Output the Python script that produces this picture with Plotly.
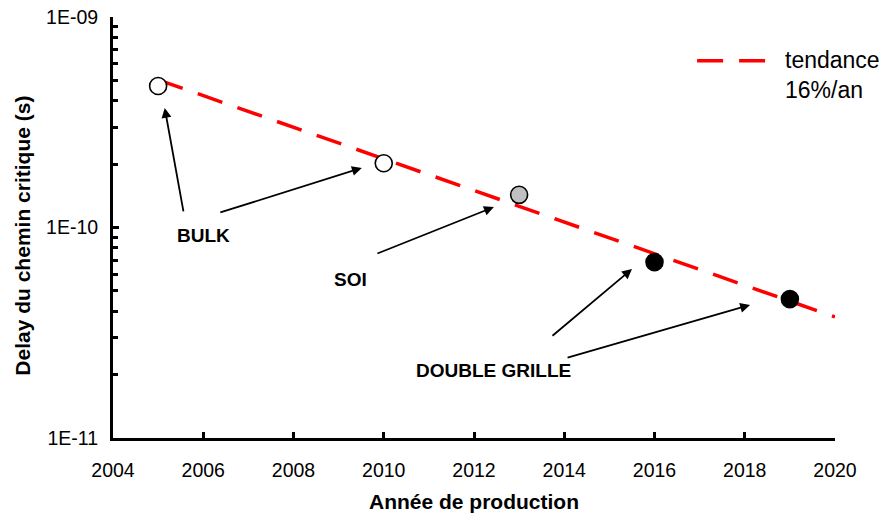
import plotly.graph_objects as go

# Critical-path delay by production year (seconds)
years = [2005, 2010, 2013, 2016, 2019]
delays = [4.70e-10, 2.02e-10, 1.43e-10, 6.85e-11, 4.57e-11]
techs = ["BULK", "BULK", "SOI", "DOUBLE GRILLE", "DOUBLE GRILLE"]
tech_fill = {"BULK": "white", "SOI": "#C0C0C0", "DOUBLE GRILLE": "black"}

# Trend line end points (-16 % per year)
trend_years = [2005, 2020]
trend_delays = [5.03e-10, 3.76e-11]

y_tick_vals = [1e-11, 1e-10, 1e-09]
y_tick_text = ["1E-11", "1E-10", "1E-09"]
y_minor_vals = [k * 10.0 ** e for e in (-11, -10) for k in range(2, 10)]
x_tick_vals = [2004, 2006, 2008, 2010, 2012, 2014, 2016, 2018, 2020]

FONT = "Arial, 'Liberation Sans', sans-serif"
RED = "#FF0000"
DASH = "26px,16px"

fig = go.Figure()

fig.add_trace(go.Scatter(
    x=trend_years, y=trend_delays, mode="lines",
    name="tendance 16%/an",
    line=dict(color=RED, width=3.5, dash=DASH),
    showlegend=False, hoverinfo="skip",
))

fig.add_trace(go.Scatter(
    x=years, y=delays, mode="markers",
    marker=dict(size=17, color=[tech_fill[t] for t in techs],
                line=dict(color="black", width=1.6)),
    text=techs, showlegend=False,
))

# Arrows from the technology labels to the points (tip in data units, tail offset in px)
arrows = [
    (2005.146, -9.432, 19, 105),
    (2009.514, -9.717, -143, 45),
    (2012.441, -9.903, -118, 47),
    (2015.501, -10.197, -81, 68),
    (2018.118, -10.368, -184, 53),
]
for x, ly, ax, ay in arrows:
    fig.add_annotation(
        x=x, y=ly, xref="x", yref="y", ax=ax, ay=ay,
        text="", showarrow=True, arrowhead=2, arrowsize=1.1,
        arrowwidth=1.8, arrowcolor="black", standoff=0, startstandoff=0,
    )

labels = [
    ("BULK", 2006.01, -10.036),
    ("SOI", 2009.26, -10.245),
    ("DOUBLE GRILLE", 2012.44, -10.679),
]
for txt, x, ly in labels:
    fig.add_annotation(
        x=x, y=ly, xref="x", yref="y", text="<b>%s</b>" % txt,
        showarrow=False, xanchor="center", yanchor="middle",
        font=dict(family=FONT, size=19, color="black"),
    )

# Hand-drawn legend for the trend line
fig.add_shape(type="line", xref="paper", yref="paper",
              x0=0.809, x1=0.904, y0=0.896, y1=0.896,
              line=dict(color=RED, width=3.5, dash=DASH))
fig.add_annotation(x=0.928, y=0.898, xref="paper", yref="paper",
                   text="tendance", showarrow=False, xanchor="left", yanchor="middle",
                   font=dict(family=FONT, size=23, color="black"))
fig.add_annotation(x=0.928, y=0.826, xref="paper", yref="paper",
                   text="16%/an", showarrow=False, xanchor="left", yanchor="middle",
                   font=dict(family=FONT, size=23, color="black"))

# Y-axis title, placed by hand
fig.add_annotation(x=-0.125, y=0.48, xref="paper", yref="paper",
                   text="<b>Delay du chemin critique (s)</b>", textangle=-90,
                   showarrow=False, xanchor="center", yanchor="middle",
                   font=dict(family=FONT, size=21, color="black"))

fig.update_xaxes(
    range=[2004, 2020], tickvals=x_tick_vals, automargin=False,
    ticks="inside", ticklen=6, tickwidth=2.5, tickcolor="black",
    showline=True, linewidth=3, linecolor="black", mirror=False,
    showgrid=False, zeroline=False,
    tickfont=dict(family=FONT, size=19.5, color="black"),
    ticklabelstandoff=13,
    title=dict(text="<b>Année de production</b>", standoff=14,
               font=dict(family=FONT, size=21, color="black")),
)
fig.update_yaxes(
    type="log", range=[-11, -9], automargin=False,
    tickvals=y_tick_vals, ticktext=y_tick_text,
    ticks="inside", ticklen=6, tickwidth=2.5, tickcolor="black",
    minor=dict(tickvals=y_minor_vals, ticks="inside", ticklen=5,
               tickwidth=2.5, tickcolor="black", showgrid=False),
    showline=True, linewidth=3, linecolor="black", mirror=False,
    showgrid=False, zeroline=False,
    tickfont=dict(family=FONT, size=19.5, color="black"),
    ticklabelstandoff=8,
)

fig.update_layout(
    width=885, height=515,
    margin=dict(l=113, r=50, t=17, b=77, autoexpand=False),
    paper_bgcolor="white", plot_bgcolor="white",
    font=dict(family=FONT, color="black"),
)

fig.write_html("out.html")
